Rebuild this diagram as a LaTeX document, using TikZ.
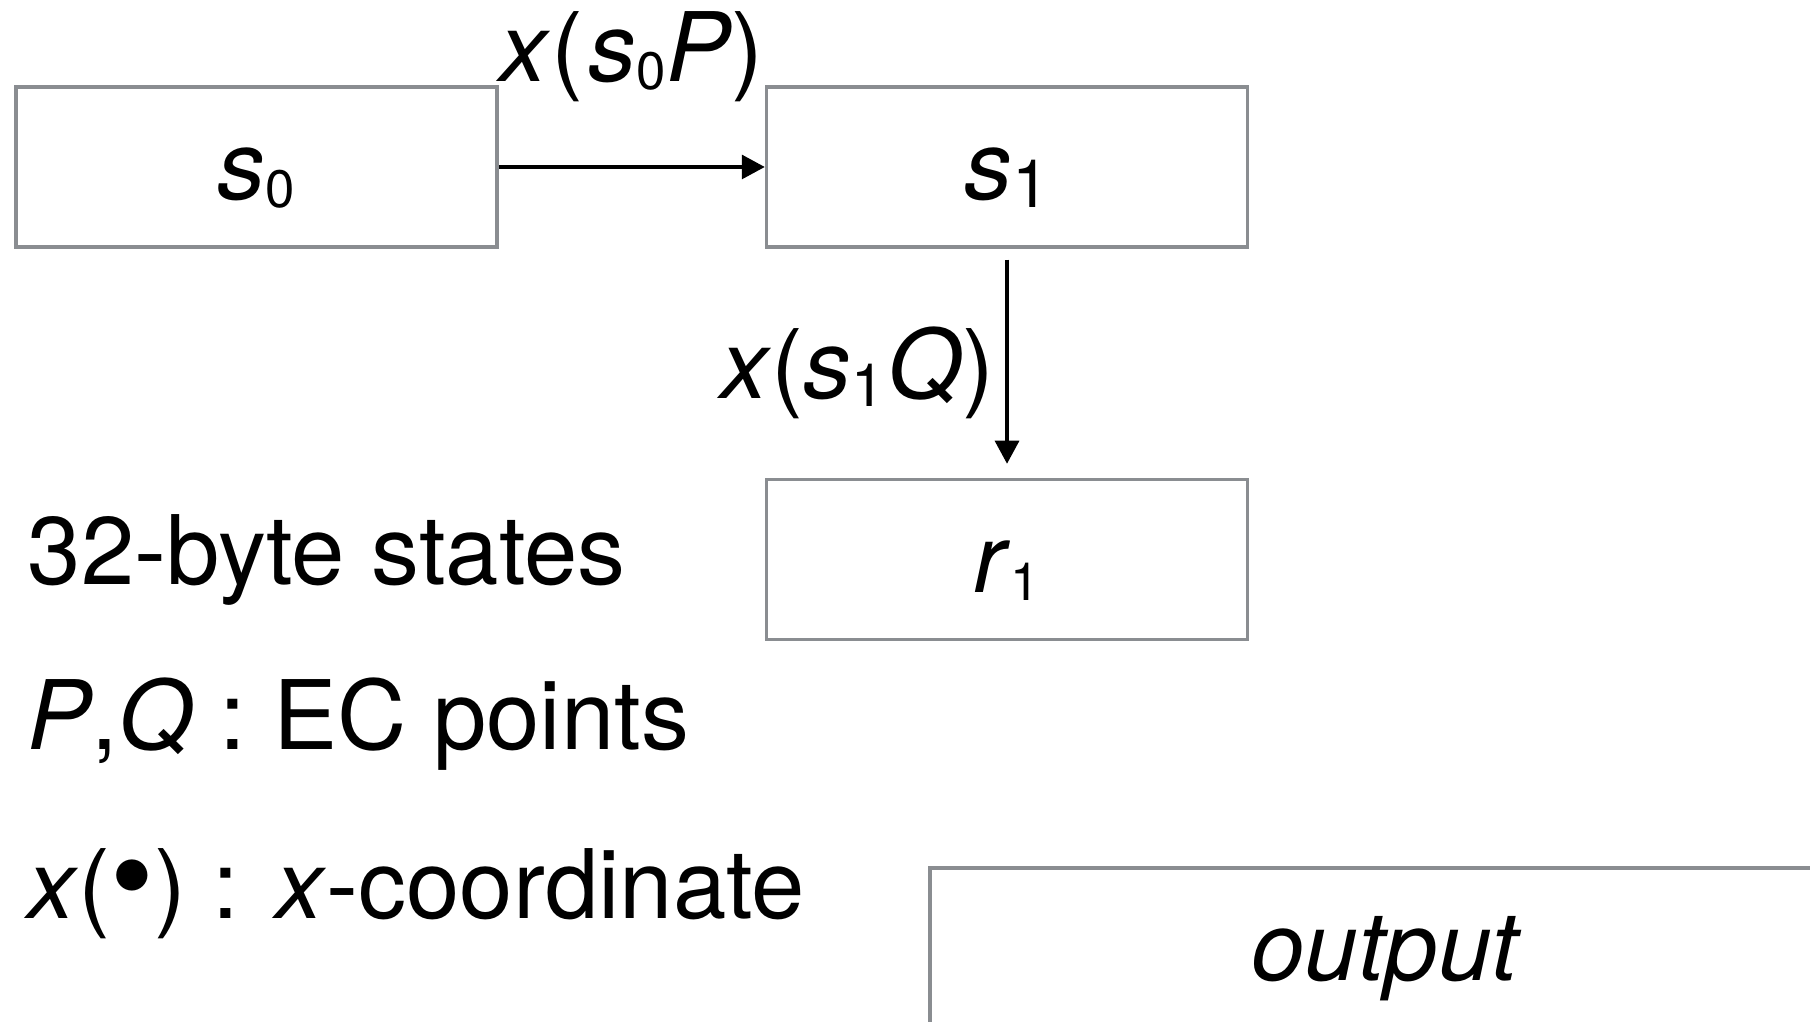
\documentclass[tikz,border=0pt]{standalone}
\usepackage{fontspec}
\setmainfont{TeX Gyre Heros}
\usepackage{tikz}
\usetikzlibrary{arrows.meta, positioning}
\definecolor{stategray}{HTML}{8A8D91}
\newcommand{\diagfont}{\fontsize{27.3}{33}\selectfont}
\newcommand{\sbs}[2][15]{\raisebox{-0.08cm}{\fontsize{#1}{#1}\selectfont #2}}

\begin{document}
\begin{tikzpicture}[
    statebox/.style={draw=stategray, line width=1pt, minimum width=4.81cm, minimum height=1.6cm,
      inner sep=0pt, text height=0.75cm, text depth=0.09cm, font=\diagfont},
    flow/.style={-{Triangle[width=0.24cm, length=0.23cm]}, line width=0.9pt},
    edgelabel/.style={inner sep=0pt, font=\diagfont},
    legend/.style={anchor=base west, inner sep=0pt, font=\diagfont}
  ]
  \path[fill=white, use as bounding box] (0,0) rectangle (18.10,10.22);
  \clip (0,0) rectangle (18.10,10.22);

  % states
  \node[statebox] (s0) at (2.565,8.55) {\textit{s}\sbs{0}};
  \node[statebox, right=2.66cm of s0] (s1) {\textit{s}\sbs[19]{1}};
  \node[statebox, below=2.29cm of s1] (r1) {\textit{r}\sbs{1}};
  \node[statebox, minimum width=9.14cm, anchor=north west] (out) at (9.28,1.56) {\textit{output}};

  % steps
  \draw[flow] (s0) -- node[edgelabel, midway, anchor=base, yshift=0.85cm]
    {\textit{x}(\kern0.06em\textit{s}\sbs{0}\textit{P})} (s1);
  \draw[flow, shorten <=0.11cm, shorten >=0.14cm] (s1) -- node[edgelabel, midway, anchor=base east, xshift=-0.11cm, yshift=-0.355cm]
    {\textit{x}(\textit{s}\sbs[17]{1}\kern0.03em\textit{Q})} (r1);

  % legend
  \node[legend] (bytes) at (0.27,4.37) {32-byte states};
  \node[legend] (points) at (0.27,2.72) {\textit{P},\textit{Q} : EC points};
  \node[legend] (xcoord) at (0.27,1.03) {\textit{x}(\scalebox{1.3}{\textbullet}) : \textit{x}-coordinate};
\end{tikzpicture}
\end{document}
